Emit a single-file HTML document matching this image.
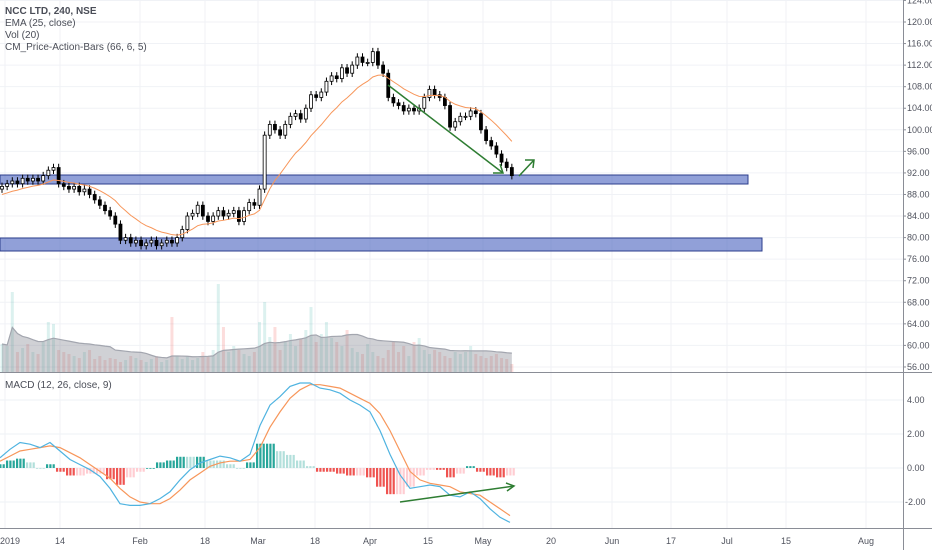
<!DOCTYPE html>
<html><head><meta charset="utf-8">
<style>
html,body{margin:0;padding:0;background:#fff;}
svg{display:block;font-family:"Liberation Sans",sans-serif;}
</style></head>
<body>
<svg id="chart" width="932" height="550" viewBox="0 0 932 550">
<g id="grid"></g>
<g id="vol"></g>
<g id="bands">
  <rect x="0" y="175" width="748" height="9" fill="rgba(72,96,190,0.6)" stroke="#2c3e8c" stroke-width="1"/>
  <rect x="0" y="238" width="762" height="13" fill="rgba(72,96,190,0.6)" stroke="#2c3e8c" stroke-width="1"/>
</g>
<g id="candles"></g>
<path id="ema" fill="none" stroke="#f7965a" stroke-width="1"/>
<g id="macd"></g>
<g stroke="#2e7d32" stroke-width="1.5" fill="none">
  <line x1="388" y1="85" x2="503" y2="173"/>
  <polyline points="493,173 503,173 500,164"/>
  <line x1="519" y1="176" x2="534" y2="160"/>
  <polyline points="525,160 534,160 533,168"/>
  <line x1="400" y1="502" x2="514" y2="486"/>
  <polyline points="506,483 514,486 507,491"/>
</g>
<line x1="0" y1="372.5" x2="932" y2="372.5" stroke="#8a8d96" stroke-width="1"/>
<line x1="903.5" y1="0" x2="903.5" y2="550" stroke="#8a8d96" stroke-width="1"/>
<line x1="0" y1="528.5" x2="932" y2="528.5" stroke="#8a8d96" stroke-width="1"/>
<g id="axes" font-size="9" fill="#50535e"></g>
<g font-size="10" fill="#4a4d57">
  <text x="5" y="14" font-weight="bold">NCC LTD, 240, NSE</text>
  <text x="5" y="26">EMA (25, close)</text>
  <text x="5" y="38">Vol (20)</text>
  <text x="5" y="50">CM_Price-Action-Bars (66, 6, 5)</text>
  <text x="5" y="388">MACD (12, 26, close, 9)</text>
</g>
</svg>
<script>
const closes=[89.5,90,90.5,90,91,90.5,91,90.5,91.5,92.5,93,90,89.5,89,89.5,88.5,89,88,87,86,85,84,82.5,79.5,80,79,79.5,78.5,79,79.5,78.5,79,79.5,79,80,81.5,84,84.5,86,84,83,84,85,84,84.5,85,83,85,86.5,86,89,99,101,100,99,101,102.5,103,102,104,106.5,106,107,109,110,109.5,111.5,110.5,112,113.5,112.5,112.5,114.5,112,110.5,106,105,104.5,103.5,104,103.5,104,106,107.5,106.5,106,104.5,100.5,101.5,102.5,102.5,103.5,103,100,98,97,95.5,94,93,91.5];
const volumes=[28,26,80,20,24,28,20,18,30,50,48,22,20,18,16,14,20,22,13,16,12,14,13,10,12,16,14,12,10,13,16,10,12,55,16,13,16,12,14,20,16,22,88,45,20,26,22,18,16,20,50,70,35,45,22,30,38,26,33,42,65,30,38,50,34,30,26,42,24,20,18,28,20,16,14,22,30,20,26,16,30,34,22,18,22,20,16,14,20,18,20,26,18,16,14,16,18,14,13,8];
const priceTicks=[124,120,116,112,108,104,100,96,92,88,84,80,76,72,68,64,60,56];
const macdTicks=[4,2,0,-2];
const timeLabels=["2019","14","Feb","18","Mar","18","Apr","15","May","20","Jun","17","Jul","15","Aug"];
const timeLabelX=[5,60,140,205,258,315,370,428,483,551,612,671,727,786,866];
const macdLine=[0.6,1.1,1.5,1.4,1.2,1.5,1.0,0.5,0.2,-0.1,-0.5,-1.2,-2.1,-2.2,-2.2,-2.1,-1.8,-1.4,-0.7,-0.1,0.3,0.5,0.7,0.6,0.4,0.8,2.5,3.7,4.2,4.8,5.0,5.0,4.7,4.6,4.4,4.0,3.7,3.3,2.2,0.8,-0.4,-1.2,-1.1,-1.0,-1.1,-1.6,-1.7,-1.4,-1.8,-2.4,-2.9,-3.2];
const signalLine=[0.4,0.7,1.0,1.1,1.2,1.3,1.2,0.9,0.6,0.2,-0.2,-0.6,-1.2,-1.7,-2.0,-2.1,-2.1,-1.8,-1.3,-0.7,-0.3,0.1,0.3,0.4,0.4,0.5,1.2,2.4,3.3,4.1,4.6,4.9,4.9,4.8,4.7,4.4,4.1,3.8,3.2,2.2,1.0,-0.2,-0.7,-0.9,-1.0,-1.1,-1.4,-1.5,-1.6,-2.0,-2.4,-2.8];

const NS="http://www.w3.org/2000/svg";
function mk(tag,attrs,parent){const e=document.createElementNS(NS,tag);for(const k in attrs)e.setAttribute(k,attrs[k]);parent.appendChild(e);return e;}
const py=p=>22+(120-p)*5.39;
const my=v=>468-17*v;
const bx=i=>2+i*5.15;
const mx=i=>i*10;
const vy=v=>372-v*1.0;

const grid=document.getElementById('grid');
priceTicks.forEach(t=>{const l=mk('line',{x1:0,x2:903,y1:py(t),y2:py(t),stroke:'#f0f2f6','stroke-width':1},grid);

});
macdTicks.forEach(t=>{const l=mk('line',{x1:0,x2:903,y1:my(t),y2:my(t),stroke:'#eef0f4','stroke-width':1},grid);

});
timeLabelX.forEach(x=>{const l=mk('line',{x1:x,x2:x,y1:0,y2:528,stroke:'#f0f2f6','stroke-width':1},grid);

});

const axes=document.getElementById('axes');
priceTicks.forEach(t=>{const e=mk('text',{x:907,y:py(t)+3},axes);e.textContent=t.toFixed(2);


mk('line',{x1:903,x2:906,y1:py(t),y2:py(t),stroke:'#8a8d96'},axes);});
macdTicks.forEach(t=>{const e=mk('text',{x:t<0?905:907,y:my(t)+3},axes);e.textContent=t.toFixed(2);

});
timeLabels.forEach((s,i)=>{const e=mk('text',{x:timeLabelX[i],y:544,'text-anchor':i===0?'start':'middle'},axes);e.textContent=s;
if(i===0)e.setAttribute('x',0);

});

// volume
const vol=document.getElementById('vol');
volumes.forEach((v,i)=>{const up=i===0||closes[i]>=closes[i-1];
const r=mk('rect',{x:bx(i)-1.5,y:vy(v),width:3,height:372-vy(v),fill:up?'rgba(38,166,154,0.16)':'rgba(239,83,80,0.2)'},vol);

});
let ma=[];volumes.forEach((v,i)=>{const s=volumes.slice(Math.max(0,i-19),i+1);ma.push(s.reduce((a,b)=>a+b,0)/s.length);});
let ad='M'+bx(0)+',372';ma.forEach((m,i)=>ad+='L'+bx(i)+','+vy(m));ad+='L'+bx(ma.length-1)+',372Z';
const area=mk('path',{d:ad,fill:'rgba(120,123,134,0.35)',stroke:'none'},vol);


let ld='';ma.forEach((m,i)=>ld+=(i?'L':'M')+bx(i)+','+vy(m));
const vl=mk('path',{d:ld,fill:'none',stroke:'#a3a6af','stroke-width':1.2},vol);



// candles
const cg=document.getElementById('candles');
closes.forEach((c,i)=>{const o=i===0?c-0.5:closes[i-1];const up=c>=o;
const hi=Math.max(o,c)+0.7,lo=Math.min(o,c)-0.7;const x=bx(i);
const w=mk('line',{x1:x,x2:x,y1:py(hi),y2:py(lo),stroke:'#000','stroke-width':1},cg);


const top=py(Math.max(o,c)),h=Math.max(1,py(Math.min(o,c))-top);
const b=mk('rect',{x:x-1.5,y:top,width:3,height:h,fill:up?'#fff':'#000',stroke:'#000','stroke-width':0.8},cg);

});

// EMA
let e=closes[0];const k=2/14;let ed='';
closes.forEach((c,i)=>{e=i===0?c-1.5:c*k+e*(1-k);ed+=(i?'L':'M')+bx(i)+','+py(e);});
document.getElementById('ema').setAttribute('d',ed);

// MACD
const mg=document.getElementById('macd');
for(let i=0;i<macdLine.length;i++){
  const d=macdLine[i]-signalLine[i];const pd=i?macdLine[i-1]-signalLine[i-1]:d;
  let col;if(d>=0)col=d>=pd?'#26a69a':'#b2dfdb';else col=d<=pd?'#ef5350':'#ffcdd2';
  const y0=my(0),y1=my(d*1.1);
  for(let j=0;j<3;j++){
    const r=mk('rect',{x:mx(i)-4+j*3.3,y:Math.min(y0,y1),width:2.2,height:Math.max(0.8,Math.abs(y1-y0)),fill:col},mg);
    
    
  }
}
let sd='',md='';
signalLine.forEach((v,i)=>sd+=(i?'L':'M')+mx(i)+','+my(v));
macdLine.forEach((v,i)=>md+=(i?'L':'M')+mx(i)+','+my(v));
const sl=mk('path',{d:sd,fill:'none',stroke:'#f7965a','stroke-width':1.2},mg);


const ml=mk('path',{d:md,fill:'none',stroke:'#4fb3e0','stroke-width':1.2},mg);


</script>
</body></html>
